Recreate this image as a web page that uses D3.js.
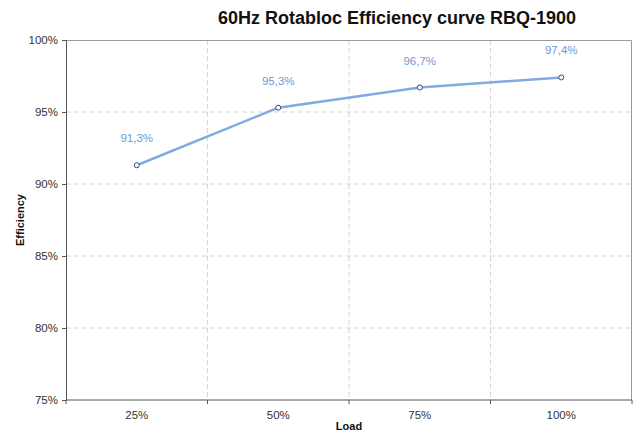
<!DOCTYPE html>
<html>
<head>
<meta charset="utf-8">
<script src="https://cdn.jsdelivr.net/npm/d3@7"></script>
<style>
  body { margin: 0; background: #fff; }
  svg { font-family: "Liberation Sans", Arial, sans-serif; }
</style>
</head>
<body>
<svg id="chart" width="637" height="434"></svg>
<script>
const loads = ['25%', '50%', '75%', '100%']
const efficiency = [91.3, 95.3, 96.7, 97.4]
const yTicks = [75, 80, 85, 90, 95, 100]

const margin = { top: 40, right: 5, bottom: 34, left: 66 }
const width = 637 - margin.left - margin.right
const height = 434 - margin.top - margin.bottom

const svg = d3.select('#chart')
const g = svg.append('g').attr('transform', `translate(${margin.left},${margin.top})`)

const x = d3.scaleBand().domain(loads).range([0, width])
const y = d3.scaleLinear().domain([75, 100]).range([height, 0])

// horizontal grid
g.append('g')
  .selectAll('line')
  .data(yTicks.slice(1, -1))
  .enter()
  .append('line')
  .attr('x1', 0).attr('x2', width)
  .attr('y1', d => y(d)).attr('y2', d => y(d))
  .style('stroke', '#d4d4d4')
  .style('stroke-dasharray', '5,3')

// vertical grid at band boundaries
g.append('g')
  .selectAll('line')
  .data(loads.slice(1))
  .enter()
  .append('line')
  .attr('x1', d => x(d)).attr('x2', d => x(d))
  .attr('y1', 0).attr('y2', height)
  .style('stroke', '#d4d4d4')
  .style('stroke-dasharray', '5,3')

// top and right border
g.append('path')
  .attr('d', `M0,0.5H${width - 0.5}V${height}`)
  .style('fill', 'none')
  .style('stroke', '#9a9a9a')

// y axis
const yAxis = g.append('g')
  .call(d3.axisLeft(y).tickValues(yTicks).tickSize(4).tickPadding(4).tickFormat(d => d + '%'))
yAxis.select('.domain').style('stroke', '#555')
yAxis.selectAll('line').style('stroke', '#555')
yAxis.selectAll('text').style('font-size', '11.5px').style('fill', '#333')

// x axis, ticks at category boundaries
const xAxis = g.append('g').attr('transform', `translate(0,${height})`)
xAxis.append('line')
  .attr('x1', 0).attr('x2', width)
  .style('stroke', '#555')
xAxis.selectAll('.tick')
  .data(loads.map(d => x(d)).concat([width]))
  .enter()
  .append('line')
  .attr('x1', d => d).attr('x2', d => d)
  .attr('y1', 0).attr('y2', 4)
  .style('stroke', '#555')
xAxis.selectAll('.lbl')
  .data(loads)
  .enter()
  .append('text')
  .attr('x', d => x(d) + x.bandwidth() / 2)
  .attr('y', 19)
  .attr('text-anchor', 'middle')
  .style('font-size', '11.5px')
  .style('fill', '#333')
  .text(d => d)

// line
const line = d3.line()
  .x((d, i) => x(loads[i]) + x.bandwidth() / 2)
  .y(d => y(d))

g.append('path')
  .datum(efficiency)
  .attr('d', line)
  .style('fill', 'none')
  .style('stroke', '#82aae2')
  .style('stroke-width', 2.5)

g.append('g')
  .selectAll('circle')
  .data(efficiency)
  .enter()
  .append('circle')
  .attr('cx', (d, i) => x(loads[i]) + x.bandwidth() / 2)
  .attr('cy', d => y(d))
  .attr('r', 2.5)
  .style('fill', '#fff')
  .style('stroke', '#3c3f8a')
  .style('stroke-width', 1)

g.append('g')
  .selectAll('text')
  .data(efficiency)
  .enter()
  .append('text')
  .attr('x', (d, i) => x(loads[i]) + x.bandwidth() / 2)
  .attr('y', d => y(d) - 23)
  .attr('text-anchor', 'middle')
  .style('font-size', '11.5px')
  .style('fill', '#6d98d2')
  .text(d => d.toFixed(1).replace('.', ',') + '%')

// title and axis labels
svg.append('text')
  .attr('x', 397)
  .attr('y', 24)
  .attr('text-anchor', 'middle')
  .style('font-size', '18px')
  .style('font-weight', 'bold')
  .style('fill', '#111')
  .text('60Hz Rotabloc Efficiency curve RBQ-1900')

svg.append('text')
  .attr('transform', `translate(24, ${margin.top + height / 2}) rotate(-90)`)
  .attr('text-anchor', 'middle')
  .style('font-size', '11px')
  .style('font-weight', 'bold')
  .style('fill', '#111')
  .text('Efficiency')

svg.append('text')
  .attr('x', margin.left + width / 2)
  .attr('y', 430)
  .attr('text-anchor', 'middle')
  .style('font-size', '11px')
  .style('font-weight', 'bold')
  .style('fill', '#111')
  .text('Load')
</script>
</body>
</html>
